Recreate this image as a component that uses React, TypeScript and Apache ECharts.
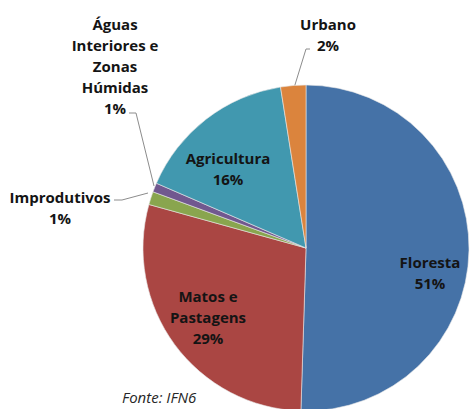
import React, { useEffect, useRef } from "react";
import * as echarts from "echarts";

const categories = [
  "Floresta",
  "Matos e\nPastagens",
  "Improdutivos",
  "Águas\nInteriores e\nZonas\nHúmidas",
  "Agricultura",
  "Urbano",
];
const shares = [50.5, 28.8, 1.3, 0.9, 16.0, 2.5];
const percentLabels = ["51%", "29%", "1%", "1%", "16%", "2%"];
const colors = ["#4572A7", "#AA4643", "#89A54E", "#71588F", "#4198AF", "#DB843D"];
const sourceNote = "Fonte: IFN6";

// label layout (centers) and leader line points, per data index
const labelCenters: [number, number][] = [
  [430, 272],
  [208, 317],
  [60, 207],
  [115, 66],
  [228, 168],
  [328, 34],
];
const leaderLines: ([number, number][] | null)[] = [
  null,
  null,
  [[148, 193], [122, 200], [114, 200]],
  [[154, 186], [136, 113], [129, 113]],
  null,
  [[294, 88], [306, 49], [310, 49]],
];

export default function App() {
  const ref = useRef<HTMLDivElement>(null);
  useEffect(() => {
    document.body.style.margin = "0";
    const chart = echarts.init(ref.current!, null, { renderer: "svg" });
    const outside = [2, 3, 5];
    chart.setOption({
      animation: false,
      backgroundColor: "#ffffff",
      series: [
        {
          type: "pie",
          center: [306, 248],
          radius: [0, 163],
          startAngle: 90,
          clockwise: true,
          avoidLabelOverlap: false,
          itemStyle: { borderColor: "#e8e8e8", borderWidth: 0.6 },
          label: {
            show: true,
            fontFamily: "Open Sans",
            fontWeight: "bold",
            fontSize: 15,
            lineHeight: 21,
            color: "#141414",
            align: "center",
            formatter: (p: any) => `${categories[p.dataIndex]}\n${percentLabels[p.dataIndex]}`,
          },
          labelLine: {
            show: true,
            lineStyle: { color: "#8c8c8c", width: 1 },
          },
          labelLayout: (params: any) => {
            const i = params.dataIndex;
            const c = labelCenters[i];
            const res: any = {
              x: c[0],
              y: c[1],
              align: "center",
              verticalAlign: "middle",
            };
            if (leaderLines[i]) res.labelLinePoints = leaderLines[i];
            return res;
          },
          data: categories.map((name, i) => ({
            name,
            value: shares[i],
            itemStyle: { color: colors[i] },
            label: { position: outside.includes(i) ? "outside" : "inside" },
            labelLine: { show: outside.includes(i) },
          })),
        },
      ],
      graphic: [
        {
          type: "text",
          left: 122,
          top: 389,
          style: {
            text: sourceNote,
            fontFamily: "Open Sans",
            fontStyle: "italic",
            fontSize: 15,
            fill: "#262626",
          },
        },
      ],
    });
    return () => chart.dispose();
  }, []);
  return <div ref={ref} style={{ width: 470, height: 409 }} />;
}
